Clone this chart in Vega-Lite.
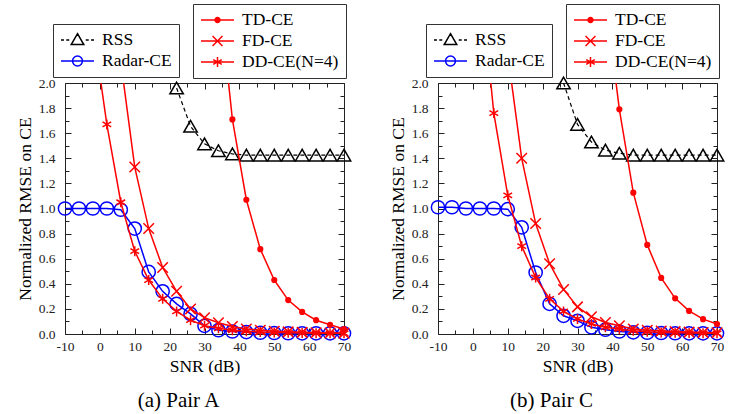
{
  "$schema": "https://vega.github.io/schema/vega-lite/v6.json",
  "padding": {"left": 15, "top": 3, "right": 5, "bottom": 5},
  "spacing": 33,
  "config": {
    "font": "Liberation Serif",
    "view": {"stroke": "#222", "strokeWidth": 1},
    "style": {"guide-label": {"font": "Liberation Serif"}, "guide-title": {"font": "Liberation Serif"}},
    "axis": {"labelFont": "Liberation Serif", "titleFont": "Liberation Serif", "grid": false, "domain": false, "labelColor": "#222", "tickColor": "#222", "tickWidth": 1, "titleFontWeight": "normal", "titleColor": "black", "labelFontSize": 13.5, "titleFontSize": 17.5},
    "legend": {"labelFont": "Liberation Serif", "titleFont": "Liberation Serif"},
    "title": {"font": "Liberation Serif", "fontWeight": "normal", "color": "black"}
  },
  "datasets": {
    "A": [
      {"method": "RSS", "snr": 22, "rmse": 1.96}, {"method": "RSS", "snr": 26, "rmse": 1.655}, {"method": "RSS", "snr": 30, "rmse": 1.515}, {"method": "RSS", "snr": 34, "rmse": 1.46}, {"method": "RSS", "snr": 38, "rmse": 1.435}, {"method": "RSS", "snr": 42, "rmse": 1.425}, {"method": "RSS", "snr": 46, "rmse": 1.425}, {"method": "RSS", "snr": 50, "rmse": 1.425}, {"method": "RSS", "snr": 54, "rmse": 1.425}, {"method": "RSS", "snr": 58, "rmse": 1.425}, {"method": "RSS", "snr": 62, "rmse": 1.425}, {"method": "RSS", "snr": 66, "rmse": 1.425}, {"method": "RSS", "snr": 70, "rmse": 1.425},
      {"method": "Radar-CE", "snr": -10, "rmse": 1.0}, {"method": "Radar-CE", "snr": -6, "rmse": 1.0}, {"method": "Radar-CE", "snr": -2, "rmse": 1.0}, {"method": "Radar-CE", "snr": 2, "rmse": 1.0}, {"method": "Radar-CE", "snr": 6, "rmse": 0.99}, {"method": "Radar-CE", "snr": 10, "rmse": 0.84}, {"method": "Radar-CE", "snr": 14, "rmse": 0.495}, {"method": "Radar-CE", "snr": 18, "rmse": 0.34}, {"method": "Radar-CE", "snr": 22, "rmse": 0.24}, {"method": "Radar-CE", "snr": 26, "rmse": 0.16}, {"method": "Radar-CE", "snr": 30, "rmse": 0.065}, {"method": "Radar-CE", "snr": 34, "rmse": 0.03}, {"method": "Radar-CE", "snr": 38, "rmse": 0.02}, {"method": "Radar-CE", "snr": 42, "rmse": 0.015}, {"method": "Radar-CE", "snr": 46, "rmse": 0.01}, {"method": "Radar-CE", "snr": 50, "rmse": 0.008}, {"method": "Radar-CE", "snr": 54, "rmse": 0.006}, {"method": "Radar-CE", "snr": 58, "rmse": 0.005}, {"method": "Radar-CE", "snr": 62, "rmse": 0.005}, {"method": "Radar-CE", "snr": 66, "rmse": 0.005}, {"method": "Radar-CE", "snr": 70, "rmse": 0.005},
      {"method": "TD-CE", "snr": 34, "rmse": 2.76}, {"method": "TD-CE", "snr": 38, "rmse": 1.71}, {"method": "TD-CE", "snr": 42, "rmse": 1.07}, {"method": "TD-CE", "snr": 46, "rmse": 0.676}, {"method": "TD-CE", "snr": 50, "rmse": 0.43}, {"method": "TD-CE", "snr": 54, "rmse": 0.27}, {"method": "TD-CE", "snr": 58, "rmse": 0.176}, {"method": "TD-CE", "snr": 62, "rmse": 0.11}, {"method": "TD-CE", "snr": 66, "rmse": 0.074}, {"method": "TD-CE", "snr": 70, "rmse": 0.04},
      {"method": "FD-CE", "snr": 6, "rmse": 2.17}, {"method": "FD-CE", "snr": 10, "rmse": 1.33}, {"method": "FD-CE", "snr": 14, "rmse": 0.84}, {"method": "FD-CE", "snr": 18, "rmse": 0.53}, {"method": "FD-CE", "snr": 22, "rmse": 0.34}, {"method": "FD-CE", "snr": 26, "rmse": 0.2}, {"method": "FD-CE", "snr": 30, "rmse": 0.13}, {"method": "FD-CE", "snr": 34, "rmse": 0.09}, {"method": "FD-CE", "snr": 38, "rmse": 0.06}, {"method": "FD-CE", "snr": 42, "rmse": 0.04}, {"method": "FD-CE", "snr": 46, "rmse": 0.03}, {"method": "FD-CE", "snr": 50, "rmse": 0.022}, {"method": "FD-CE", "snr": 54, "rmse": 0.017}, {"method": "FD-CE", "snr": 58, "rmse": 0.013}, {"method": "FD-CE", "snr": 62, "rmse": 0.01}, {"method": "FD-CE", "snr": 66, "rmse": 0.008}, {"method": "FD-CE", "snr": 70, "rmse": 0.007},
      {"method": "DD-CE(N=4)", "snr": -2, "rmse": 2.45}, {"method": "DD-CE(N=4)", "snr": 2, "rmse": 1.67}, {"method": "DD-CE(N=4)", "snr": 6, "rmse": 1.05}, {"method": "DD-CE(N=4)", "snr": 10, "rmse": 0.66}, {"method": "DD-CE(N=4)", "snr": 14, "rmse": 0.43}, {"method": "DD-CE(N=4)", "snr": 18, "rmse": 0.28}, {"method": "DD-CE(N=4)", "snr": 22, "rmse": 0.18}, {"method": "DD-CE(N=4)", "snr": 26, "rmse": 0.11}, {"method": "DD-CE(N=4)", "snr": 30, "rmse": 0.066}, {"method": "DD-CE(N=4)", "snr": 34, "rmse": 0.045}, {"method": "DD-CE(N=4)", "snr": 38, "rmse": 0.03}, {"method": "DD-CE(N=4)", "snr": 42, "rmse": 0.022}, {"method": "DD-CE(N=4)", "snr": 46, "rmse": 0.016}, {"method": "DD-CE(N=4)", "snr": 50, "rmse": 0.012}, {"method": "DD-CE(N=4)", "snr": 54, "rmse": 0.009}, {"method": "DD-CE(N=4)", "snr": 58, "rmse": 0.007}, {"method": "DD-CE(N=4)", "snr": 62, "rmse": 0.006}, {"method": "DD-CE(N=4)", "snr": 66, "rmse": 0.005}, {"method": "DD-CE(N=4)", "snr": 70, "rmse": 0.005}
    ],
    "C": [
      {"method": "RSS", "snr": 26, "rmse": 2.0}, {"method": "RSS", "snr": 30, "rmse": 1.67}, {"method": "RSS", "snr": 34, "rmse": 1.53}, {"method": "RSS", "snr": 38, "rmse": 1.465}, {"method": "RSS", "snr": 42, "rmse": 1.44}, {"method": "RSS", "snr": 46, "rmse": 1.425}, {"method": "RSS", "snr": 50, "rmse": 1.425}, {"method": "RSS", "snr": 54, "rmse": 1.425}, {"method": "RSS", "snr": 58, "rmse": 1.425}, {"method": "RSS", "snr": 62, "rmse": 1.425}, {"method": "RSS", "snr": 66, "rmse": 1.425}, {"method": "RSS", "snr": 70, "rmse": 1.425},
      {"method": "Radar-CE", "snr": -10, "rmse": 1.01}, {"method": "Radar-CE", "snr": -6, "rmse": 1.01}, {"method": "Radar-CE", "snr": -2, "rmse": 1.0}, {"method": "Radar-CE", "snr": 2, "rmse": 1.0}, {"method": "Radar-CE", "snr": 6, "rmse": 1.0}, {"method": "Radar-CE", "snr": 10, "rmse": 0.995}, {"method": "Radar-CE", "snr": 14, "rmse": 0.85}, {"method": "Radar-CE", "snr": 18, "rmse": 0.49}, {"method": "Radar-CE", "snr": 22, "rmse": 0.24}, {"method": "Radar-CE", "snr": 26, "rmse": 0.145}, {"method": "Radar-CE", "snr": 30, "rmse": 0.105}, {"method": "Radar-CE", "snr": 34, "rmse": 0.053}, {"method": "Radar-CE", "snr": 38, "rmse": 0.034}, {"method": "Radar-CE", "snr": 42, "rmse": 0.02}, {"method": "Radar-CE", "snr": 46, "rmse": 0.013}, {"method": "Radar-CE", "snr": 50, "rmse": 0.01}, {"method": "Radar-CE", "snr": 54, "rmse": 0.008}, {"method": "Radar-CE", "snr": 58, "rmse": 0.006}, {"method": "Radar-CE", "snr": 62, "rmse": 0.005}, {"method": "Radar-CE", "snr": 66, "rmse": 0.005}, {"method": "Radar-CE", "snr": 70, "rmse": 0.005},
      {"method": "TD-CE", "snr": 38, "rmse": 2.68}, {"method": "TD-CE", "snr": 42, "rmse": 1.79}, {"method": "TD-CE", "snr": 46, "rmse": 1.126}, {"method": "TD-CE", "snr": 50, "rmse": 0.71}, {"method": "TD-CE", "snr": 54, "rmse": 0.447}, {"method": "TD-CE", "snr": 58, "rmse": 0.284}, {"method": "TD-CE", "snr": 62, "rmse": 0.184}, {"method": "TD-CE", "snr": 66, "rmse": 0.118}, {"method": "TD-CE", "snr": 70, "rmse": 0.079},
      {"method": "FD-CE", "snr": 10, "rmse": 2.23}, {"method": "FD-CE", "snr": 14, "rmse": 1.4}, {"method": "FD-CE", "snr": 18, "rmse": 0.88}, {"method": "FD-CE", "snr": 22, "rmse": 0.56}, {"method": "FD-CE", "snr": 26, "rmse": 0.355}, {"method": "FD-CE", "snr": 30, "rmse": 0.216}, {"method": "FD-CE", "snr": 34, "rmse": 0.137}, {"method": "FD-CE", "snr": 38, "rmse": 0.092}, {"method": "FD-CE", "snr": 42, "rmse": 0.066}, {"method": "FD-CE", "snr": 46, "rmse": 0.04}, {"method": "FD-CE", "snr": 50, "rmse": 0.03}, {"method": "FD-CE", "snr": 54, "rmse": 0.024}, {"method": "FD-CE", "snr": 58, "rmse": 0.019}, {"method": "FD-CE", "snr": 62, "rmse": 0.015}, {"method": "FD-CE", "snr": 66, "rmse": 0.012}, {"method": "FD-CE", "snr": 70, "rmse": 0.01},
      {"method": "DD-CE(N=4)", "snr": 2, "rmse": 2.88}, {"method": "DD-CE(N=4)", "snr": 6, "rmse": 1.76}, {"method": "DD-CE(N=4)", "snr": 10, "rmse": 1.105}, {"method": "DD-CE(N=4)", "snr": 14, "rmse": 0.7}, {"method": "DD-CE(N=4)", "snr": 18, "rmse": 0.45}, {"method": "DD-CE(N=4)", "snr": 22, "rmse": 0.28}, {"method": "DD-CE(N=4)", "snr": 26, "rmse": 0.18}, {"method": "DD-CE(N=4)", "snr": 30, "rmse": 0.12}, {"method": "DD-CE(N=4)", "snr": 34, "rmse": 0.08}, {"method": "DD-CE(N=4)", "snr": 38, "rmse": 0.053}, {"method": "DD-CE(N=4)", "snr": 42, "rmse": 0.04}, {"method": "DD-CE(N=4)", "snr": 46, "rmse": 0.025}, {"method": "DD-CE(N=4)", "snr": 50, "rmse": 0.018}, {"method": "DD-CE(N=4)", "snr": 54, "rmse": 0.012}, {"method": "DD-CE(N=4)", "snr": 58, "rmse": 0.009}, {"method": "DD-CE(N=4)", "snr": 62, "rmse": 0.007}, {"method": "DD-CE(N=4)", "snr": 66, "rmse": 0.006}, {"method": "DD-CE(N=4)", "snr": 70, "rmse": 0.005}
    ]
  },
  "hconcat": [
    {
      "width": 279, "height": 251,
      "data": {"name": "A"},
      "title": {"text": "(a) Pair A", "orient": "bottom", "font": "Liberation Serif", "fontSize": 21, "frame": "group", "anchor": "middle", "dx": -26, "offset": 15},
      "resolve": {"scale": {"color": "independent", "shape": "independent"}, "axis": {"x": "independent", "y": "independent"}},
      "layer": [
        {"transform": [{"filter": "false"}], "mark": {"type": "point", "filled": false, "opacity": 1},
         "encoding": {
           "color": {"field": "method", "type": "nominal", "scale": {"domain": ["RSS", "Radar-CE"], "range": ["black", "blue"]}, "legend": {"orient": "none", "legendX": -12, "legendY": -59, "title": null, "strokeColor": "#333", "fillColor": "white", "padding": 7, "labelFont": "Liberation Serif", "labelFontSize": 17.5, "labelColor": "black", "symbolSize": 1089, "symbolStrokeWidth": 1.5, "labelOffset": 7, "rowPadding": 3, "clipHeight": 18, "labelLimit": 300}},
           "shape": {"field": "method", "type": "nominal", "scale": {"domain": ["RSS", "Radar-CE"], "range": ["M-1,0H-0.82M-0.68,0H-0.5M0.5,0H0.68M0.82,0H1M0,-0.38L0.38,0.28L-0.38,0.28Z", "M-1,0H1M0.3,0A0.3,0.3 0 1,1 -0.3,0A0.3,0.3 0 1,1 0.3,0"]}, "legend": {"orient": "none", "legendX": -12, "legendY": -59, "title": null, "strokeColor": "#333", "fillColor": "white", "padding": 7, "labelFont": "Liberation Serif", "labelFontSize": 17.5, "labelColor": "black", "symbolSize": 1089, "symbolStrokeWidth": 1.5, "labelOffset": 7, "rowPadding": 3, "clipHeight": 18, "labelLimit": 300}}
         }},
        {"transform": [{"filter": "false"}], "mark": {"type": "point", "filled": false, "opacity": 1},
         "encoding": {
           "color": {"field": "method", "type": "nominal", "scale": {"domain": ["TD-CE", "FD-CE", "DD-CE(N=4)"], "range": ["red", "red", "red"]}, "legend": {"orient": "none", "legendX": 128, "legendY": -79, "title": null, "strokeColor": "#333", "fillColor": "white", "padding": 7, "labelFont": "Liberation Serif", "labelFontSize": 17.5, "labelColor": "black", "symbolSize": 1089, "symbolStrokeWidth": 1.5, "labelOffset": 7, "rowPadding": 3, "clipHeight": 18, "labelLimit": 300}},
           "shape": {"field": "method", "type": "nominal", "scale": {"domain": ["TD-CE", "FD-CE", "DD-CE(N=4)"], "range": ["M-1,0H1M0.15,0A0.15,0.15 0 1,1 -0.15,0A0.15,0.15 0 1,1 0.15,0M0.08,0A0.08,0.08 0 1,1 -0.08,0A0.08,0.08 0 1,1 0.08,0", "M-1,0H1M-0.3,-0.3L0.3,0.3M-0.3,0.3L0.3,-0.3", "M-1,0H1M0,-0.3V0.3M-0.26,-0.15L0.26,0.15M-0.26,0.15L0.26,-0.15"]}, "legend": {"orient": "none", "legendX": 128, "legendY": -79, "title": null, "strokeColor": "#333", "fillColor": "white", "padding": 7, "labelFont": "Liberation Serif", "labelFontSize": 17.5, "labelColor": "black", "symbolSize": 1089, "symbolStrokeWidth": 1.5, "labelOffset": 7, "rowPadding": 3, "clipHeight": 18, "labelLimit": 300}}
         }},
        {"transform": [{"filter": "datum.method === 'RSS'"}], "mark": {"type": "line", "color": "black", "strokeDash": [4, 3], "strokeWidth": 1.2, "clip": true},
         "encoding": {
           "x": {"field": "snr", "type": "quantitative", "scale": {"domain": [-10, 70], "nice": false, "zero": false}, "axis": {"orient": "bottom", "values": [-10, 0, 10, 20, 30, 40, 50, 60, 70], "labelExpr": "datum.value + ''", "ticks": false, "labelPadding": 5, "labelFlush": false, "labelFont": "Liberation Serif", "title": "SNR (dB)", "titleFont": "Liberation Serif", "titlePadding": 5}},
           "y": {"field": "rmse", "type": "quantitative", "scale": {"domain": [0, 2], "nice": false, "zero": false}, "axis": {"orient": "left", "values": [0, 0.2, 0.4, 0.6, 0.8, 1, 1.2, 1.4, 1.6, 1.8, 2], "format": ".1f", "ticks": false, "labelPadding": 10, "labelFont": "Liberation Serif", "title": "Normalized RMSE on CE", "titleFont": "Liberation Serif", "titlePadding": 4}}
         }},
        {"transform": [{"filter": "datum.method === 'RSS' && datum.rmse <= 2.02"}], "mark": {"type": "point", "shape": "triangle-up", "filled": false, "color": "black", "size": 180, "strokeWidth": 1.5, "opacity": 1},
         "encoding": {
           "x": {"field": "snr", "type": "quantitative", "scale": {"domain": [-10, 70], "nice": false, "zero": false}, "axis": {"orient": "bottom", "values": [-10, 0, 10, 20, 30, 40, 50, 60, 70], "labels": false, "title": null, "offset": -6, "tickSize": 6}},
           "y": {"field": "rmse", "type": "quantitative", "scale": {"domain": [0, 2], "nice": false, "zero": false}, "axis": {"orient": "left", "values": [0, 0.2, 0.4, 0.6, 0.8, 1, 1.2, 1.4, 1.6, 1.8, 2], "labels": false, "title": null, "offset": -6, "tickSize": 6}}
         }},
        {"transform": [{"filter": "datum.method === 'Radar-CE'"}], "mark": {"type": "line", "color": "blue", "strokeWidth": 1.5, "clip": true},
         "encoding": {
           "x": {"field": "snr", "type": "quantitative", "scale": {"domain": [-10, 70], "nice": false, "zero": false}, "axis": {"orient": "bottom", "values": [-5, 5, 15, 25, 35, 45, 55, 65], "labels": false, "title": null, "offset": -4, "tickSize": 4}},
           "y": {"field": "rmse", "type": "quantitative", "scale": {"domain": [0, 2], "nice": false, "zero": false}, "axis": {"orient": "left", "values": [0.1, 0.3, 0.5, 0.7, 0.9, 1.1, 1.3, 1.5, 1.7, 1.9], "labels": false, "title": null, "offset": -4, "tickSize": 4}}
         }},
        {"transform": [{"filter": "datum.method === 'Radar-CE' && datum.rmse <= 2.02"}], "mark": {"type": "point", "shape": "circle", "filled": false, "color": "blue", "size": 175, "strokeWidth": 1.5, "opacity": 1},
         "encoding": {
           "x": {"field": "snr", "type": "quantitative", "scale": {"domain": [-10, 70], "nice": false, "zero": false}, "axis": {"orient": "top", "values": [-10, 0, 10, 20, 30, 40, 50, 60, 70], "labels": false, "title": null, "offset": -6, "tickSize": 6}},
           "y": {"field": "rmse", "type": "quantitative", "scale": {"domain": [0, 2], "nice": false, "zero": false}, "axis": {"orient": "right", "values": [0, 0.2, 0.4, 0.6, 0.8, 1, 1.2, 1.4, 1.6, 1.8, 2], "labels": false, "title": null, "offset": -6, "tickSize": 6}}
         }},
        {"transform": [{"filter": "datum.method === 'TD-CE'"}], "mark": {"type": "line", "color": "red", "strokeWidth": 1.5, "clip": true},
         "encoding": {
           "x": {"field": "snr", "type": "quantitative", "scale": {"domain": [-10, 70], "nice": false, "zero": false}, "axis": {"orient": "top", "values": [-5, 5, 15, 25, 35, 45, 55, 65], "labels": false, "title": null, "offset": -4, "tickSize": 4}},
           "y": {"field": "rmse", "type": "quantitative", "scale": {"domain": [0, 2], "nice": false, "zero": false}, "axis": {"orient": "right", "values": [0.1, 0.3, 0.5, 0.7, 0.9, 1.1, 1.3, 1.5, 1.7, 1.9], "labels": false, "title": null, "offset": -4, "tickSize": 4}}
         }},
        {"transform": [{"filter": "datum.method === 'TD-CE' && datum.rmse <= 2.02"}], "mark": {"type": "point", "shape": "circle", "filled": true, "color": "red", "size": 38, "opacity": 1},
         "encoding": {
           "x": {"field": "snr", "type": "quantitative", "scale": {"domain": [-10, 70], "nice": false, "zero": false}, "axis": null},
           "y": {"field": "rmse", "type": "quantitative", "scale": {"domain": [0, 2], "nice": false, "zero": false}, "axis": null}
         }},
        {"transform": [{"filter": "datum.method === 'FD-CE'"}], "mark": {"type": "line", "color": "red", "strokeWidth": 1.5, "clip": true},
         "encoding": {
           "x": {"field": "snr", "type": "quantitative", "scale": {"domain": [-10, 70], "nice": false, "zero": false}, "axis": null},
           "y": {"field": "rmse", "type": "quantitative", "scale": {"domain": [0, 2], "nice": false, "zero": false}, "axis": null}
         }},
        {"transform": [{"filter": "datum.method === 'FD-CE' && datum.rmse <= 2.02"}], "mark": {"type": "point", "shape": "M-1,-1L1,1M-1,1L1,-1", "filled": false, "color": "red", "size": 110, "strokeWidth": 1.5, "opacity": 1},
         "encoding": {
           "x": {"field": "snr", "type": "quantitative", "scale": {"domain": [-10, 70], "nice": false, "zero": false}, "axis": null},
           "y": {"field": "rmse", "type": "quantitative", "scale": {"domain": [0, 2], "nice": false, "zero": false}, "axis": null}
         }},
        {"transform": [{"filter": "datum.method === 'DD-CE(N=4)'"}], "mark": {"type": "line", "color": "red", "strokeWidth": 1.5, "clip": true},
         "encoding": {
           "x": {"field": "snr", "type": "quantitative", "scale": {"domain": [-10, 70], "nice": false, "zero": false}, "axis": null},
           "y": {"field": "rmse", "type": "quantitative", "scale": {"domain": [0, 2], "nice": false, "zero": false}, "axis": null}
         }},
        {"transform": [{"filter": "datum.method === 'DD-CE(N=4)' && datum.rmse <= 2.02"}], "mark": {"type": "point", "shape": "M0,-1V1M-0.87,-0.5L0.87,0.5M-0.87,0.5L0.87,-0.5", "filled": false, "color": "red", "size": 100, "strokeWidth": 1.5, "opacity": 1},
         "encoding": {
           "x": {"field": "snr", "type": "quantitative", "scale": {"domain": [-10, 70], "nice": false, "zero": false}, "axis": null},
           "y": {"field": "rmse", "type": "quantitative", "scale": {"domain": [0, 2], "nice": false, "zero": false}, "axis": null}
         }}
      ]
    },
    {
      "width": 279, "height": 251,
      "data": {"name": "C"},
      "title": {"text": "(b) Pair C", "orient": "bottom", "font": "Liberation Serif", "fontSize": 21, "frame": "group", "anchor": "middle", "dx": -26, "offset": 15},
      "resolve": {"scale": {"color": "independent", "shape": "independent"}, "axis": {"x": "independent", "y": "independent"}},
      "layer": [
        {"transform": [{"filter": "false"}], "mark": {"type": "point", "filled": false, "opacity": 1},
         "encoding": {
           "color": {"field": "method", "type": "nominal", "scale": {"domain": ["RSS", "Radar-CE"], "range": ["black", "blue"]}, "legend": {"orient": "none", "legendX": -12, "legendY": -59, "title": null, "strokeColor": "#333", "fillColor": "white", "padding": 7, "labelFont": "Liberation Serif", "labelFontSize": 17.5, "labelColor": "black", "symbolSize": 1089, "symbolStrokeWidth": 1.5, "labelOffset": 7, "rowPadding": 3, "clipHeight": 18, "labelLimit": 300}},
           "shape": {"field": "method", "type": "nominal", "scale": {"domain": ["RSS", "Radar-CE"], "range": ["M-1,0H-0.82M-0.68,0H-0.5M0.5,0H0.68M0.82,0H1M0,-0.38L0.38,0.28L-0.38,0.28Z", "M-1,0H1M0.3,0A0.3,0.3 0 1,1 -0.3,0A0.3,0.3 0 1,1 0.3,0"]}, "legend": {"orient": "none", "legendX": -12, "legendY": -59, "title": null, "strokeColor": "#333", "fillColor": "white", "padding": 7, "labelFont": "Liberation Serif", "labelFontSize": 17.5, "labelColor": "black", "symbolSize": 1089, "symbolStrokeWidth": 1.5, "labelOffset": 7, "rowPadding": 3, "clipHeight": 18, "labelLimit": 300}}
         }},
        {"transform": [{"filter": "false"}], "mark": {"type": "point", "filled": false, "opacity": 1},
         "encoding": {
           "color": {"field": "method", "type": "nominal", "scale": {"domain": ["TD-CE", "FD-CE", "DD-CE(N=4)"], "range": ["red", "red", "red"]}, "legend": {"orient": "none", "legendX": 128, "legendY": -79, "title": null, "strokeColor": "#333", "fillColor": "white", "padding": 7, "labelFont": "Liberation Serif", "labelFontSize": 17.5, "labelColor": "black", "symbolSize": 1089, "symbolStrokeWidth": 1.5, "labelOffset": 7, "rowPadding": 3, "clipHeight": 18, "labelLimit": 300}},
           "shape": {"field": "method", "type": "nominal", "scale": {"domain": ["TD-CE", "FD-CE", "DD-CE(N=4)"], "range": ["M-1,0H1M0.15,0A0.15,0.15 0 1,1 -0.15,0A0.15,0.15 0 1,1 0.15,0M0.08,0A0.08,0.08 0 1,1 -0.08,0A0.08,0.08 0 1,1 0.08,0", "M-1,0H1M-0.3,-0.3L0.3,0.3M-0.3,0.3L0.3,-0.3", "M-1,0H1M0,-0.3V0.3M-0.26,-0.15L0.26,0.15M-0.26,0.15L0.26,-0.15"]}, "legend": {"orient": "none", "legendX": 128, "legendY": -79, "title": null, "strokeColor": "#333", "fillColor": "white", "padding": 7, "labelFont": "Liberation Serif", "labelFontSize": 17.5, "labelColor": "black", "symbolSize": 1089, "symbolStrokeWidth": 1.5, "labelOffset": 7, "rowPadding": 3, "clipHeight": 18, "labelLimit": 300}}
         }},
        {"transform": [{"filter": "datum.method === 'RSS'"}], "mark": {"type": "line", "color": "black", "strokeDash": [4, 3], "strokeWidth": 1.2, "clip": true},
         "encoding": {
           "x": {"field": "snr", "type": "quantitative", "scale": {"domain": [-10, 70], "nice": false, "zero": false}, "axis": {"orient": "bottom", "values": [-10, 0, 10, 20, 30, 40, 50, 60, 70], "labelExpr": "datum.value + ''", "ticks": false, "labelPadding": 5, "labelFlush": false, "labelFont": "Liberation Serif", "title": "SNR (dB)", "titleFont": "Liberation Serif", "titlePadding": 5}},
           "y": {"field": "rmse", "type": "quantitative", "scale": {"domain": [0, 2], "nice": false, "zero": false}, "axis": {"orient": "left", "values": [0, 0.2, 0.4, 0.6, 0.8, 1, 1.2, 1.4, 1.6, 1.8, 2], "format": ".1f", "ticks": false, "labelPadding": 10, "labelFont": "Liberation Serif", "title": "Normalized RMSE on CE", "titleFont": "Liberation Serif", "titlePadding": 4}}
         }},
        {"transform": [{"filter": "datum.method === 'RSS' && datum.rmse <= 2.02"}], "mark": {"type": "point", "shape": "triangle-up", "filled": false, "color": "black", "size": 180, "strokeWidth": 1.5, "opacity": 1},
         "encoding": {
           "x": {"field": "snr", "type": "quantitative", "scale": {"domain": [-10, 70], "nice": false, "zero": false}, "axis": {"orient": "bottom", "values": [-10, 0, 10, 20, 30, 40, 50, 60, 70], "labels": false, "title": null, "offset": -6, "tickSize": 6}},
           "y": {"field": "rmse", "type": "quantitative", "scale": {"domain": [0, 2], "nice": false, "zero": false}, "axis": {"orient": "left", "values": [0, 0.2, 0.4, 0.6, 0.8, 1, 1.2, 1.4, 1.6, 1.8, 2], "labels": false, "title": null, "offset": -6, "tickSize": 6}}
         }},
        {"transform": [{"filter": "datum.method === 'Radar-CE'"}], "mark": {"type": "line", "color": "blue", "strokeWidth": 1.5, "clip": true},
         "encoding": {
           "x": {"field": "snr", "type": "quantitative", "scale": {"domain": [-10, 70], "nice": false, "zero": false}, "axis": {"orient": "bottom", "values": [-5, 5, 15, 25, 35, 45, 55, 65], "labels": false, "title": null, "offset": -4, "tickSize": 4}},
           "y": {"field": "rmse", "type": "quantitative", "scale": {"domain": [0, 2], "nice": false, "zero": false}, "axis": {"orient": "left", "values": [0.1, 0.3, 0.5, 0.7, 0.9, 1.1, 1.3, 1.5, 1.7, 1.9], "labels": false, "title": null, "offset": -4, "tickSize": 4}}
         }},
        {"transform": [{"filter": "datum.method === 'Radar-CE' && datum.rmse <= 2.02"}], "mark": {"type": "point", "shape": "circle", "filled": false, "color": "blue", "size": 175, "strokeWidth": 1.5, "opacity": 1},
         "encoding": {
           "x": {"field": "snr", "type": "quantitative", "scale": {"domain": [-10, 70], "nice": false, "zero": false}, "axis": {"orient": "top", "values": [-10, 0, 10, 20, 30, 40, 50, 60, 70], "labels": false, "title": null, "offset": -6, "tickSize": 6}},
           "y": {"field": "rmse", "type": "quantitative", "scale": {"domain": [0, 2], "nice": false, "zero": false}, "axis": {"orient": "right", "values": [0, 0.2, 0.4, 0.6, 0.8, 1, 1.2, 1.4, 1.6, 1.8, 2], "labels": false, "title": null, "offset": -6, "tickSize": 6}}
         }},
        {"transform": [{"filter": "datum.method === 'TD-CE'"}], "mark": {"type": "line", "color": "red", "strokeWidth": 1.5, "clip": true},
         "encoding": {
           "x": {"field": "snr", "type": "quantitative", "scale": {"domain": [-10, 70], "nice": false, "zero": false}, "axis": {"orient": "top", "values": [-5, 5, 15, 25, 35, 45, 55, 65], "labels": false, "title": null, "offset": -4, "tickSize": 4}},
           "y": {"field": "rmse", "type": "quantitative", "scale": {"domain": [0, 2], "nice": false, "zero": false}, "axis": {"orient": "right", "values": [0.1, 0.3, 0.5, 0.7, 0.9, 1.1, 1.3, 1.5, 1.7, 1.9], "labels": false, "title": null, "offset": -4, "tickSize": 4}}
         }},
        {"transform": [{"filter": "datum.method === 'TD-CE' && datum.rmse <= 2.02"}], "mark": {"type": "point", "shape": "circle", "filled": true, "color": "red", "size": 38, "opacity": 1},
         "encoding": {
           "x": {"field": "snr", "type": "quantitative", "scale": {"domain": [-10, 70], "nice": false, "zero": false}, "axis": null},
           "y": {"field": "rmse", "type": "quantitative", "scale": {"domain": [0, 2], "nice": false, "zero": false}, "axis": null}
         }},
        {"transform": [{"filter": "datum.method === 'FD-CE'"}], "mark": {"type": "line", "color": "red", "strokeWidth": 1.5, "clip": true},
         "encoding": {
           "x": {"field": "snr", "type": "quantitative", "scale": {"domain": [-10, 70], "nice": false, "zero": false}, "axis": null},
           "y": {"field": "rmse", "type": "quantitative", "scale": {"domain": [0, 2], "nice": false, "zero": false}, "axis": null}
         }},
        {"transform": [{"filter": "datum.method === 'FD-CE' && datum.rmse <= 2.02"}], "mark": {"type": "point", "shape": "M-1,-1L1,1M-1,1L1,-1", "filled": false, "color": "red", "size": 110, "strokeWidth": 1.5, "opacity": 1},
         "encoding": {
           "x": {"field": "snr", "type": "quantitative", "scale": {"domain": [-10, 70], "nice": false, "zero": false}, "axis": null},
           "y": {"field": "rmse", "type": "quantitative", "scale": {"domain": [0, 2], "nice": false, "zero": false}, "axis": null}
         }},
        {"transform": [{"filter": "datum.method === 'DD-CE(N=4)'"}], "mark": {"type": "line", "color": "red", "strokeWidth": 1.5, "clip": true},
         "encoding": {
           "x": {"field": "snr", "type": "quantitative", "scale": {"domain": [-10, 70], "nice": false, "zero": false}, "axis": null},
           "y": {"field": "rmse", "type": "quantitative", "scale": {"domain": [0, 2], "nice": false, "zero": false}, "axis": null}
         }},
        {"transform": [{"filter": "datum.method === 'DD-CE(N=4)' && datum.rmse <= 2.02"}], "mark": {"type": "point", "shape": "M0,-1V1M-0.87,-0.5L0.87,0.5M-0.87,0.5L0.87,-0.5", "filled": false, "color": "red", "size": 100, "strokeWidth": 1.5, "opacity": 1},
         "encoding": {
           "x": {"field": "snr", "type": "quantitative", "scale": {"domain": [-10, 70], "nice": false, "zero": false}, "axis": null},
           "y": {"field": "rmse", "type": "quantitative", "scale": {"domain": [0, 2], "nice": false, "zero": false}, "axis": null}
         }}
      ]
    }
  ]
}
